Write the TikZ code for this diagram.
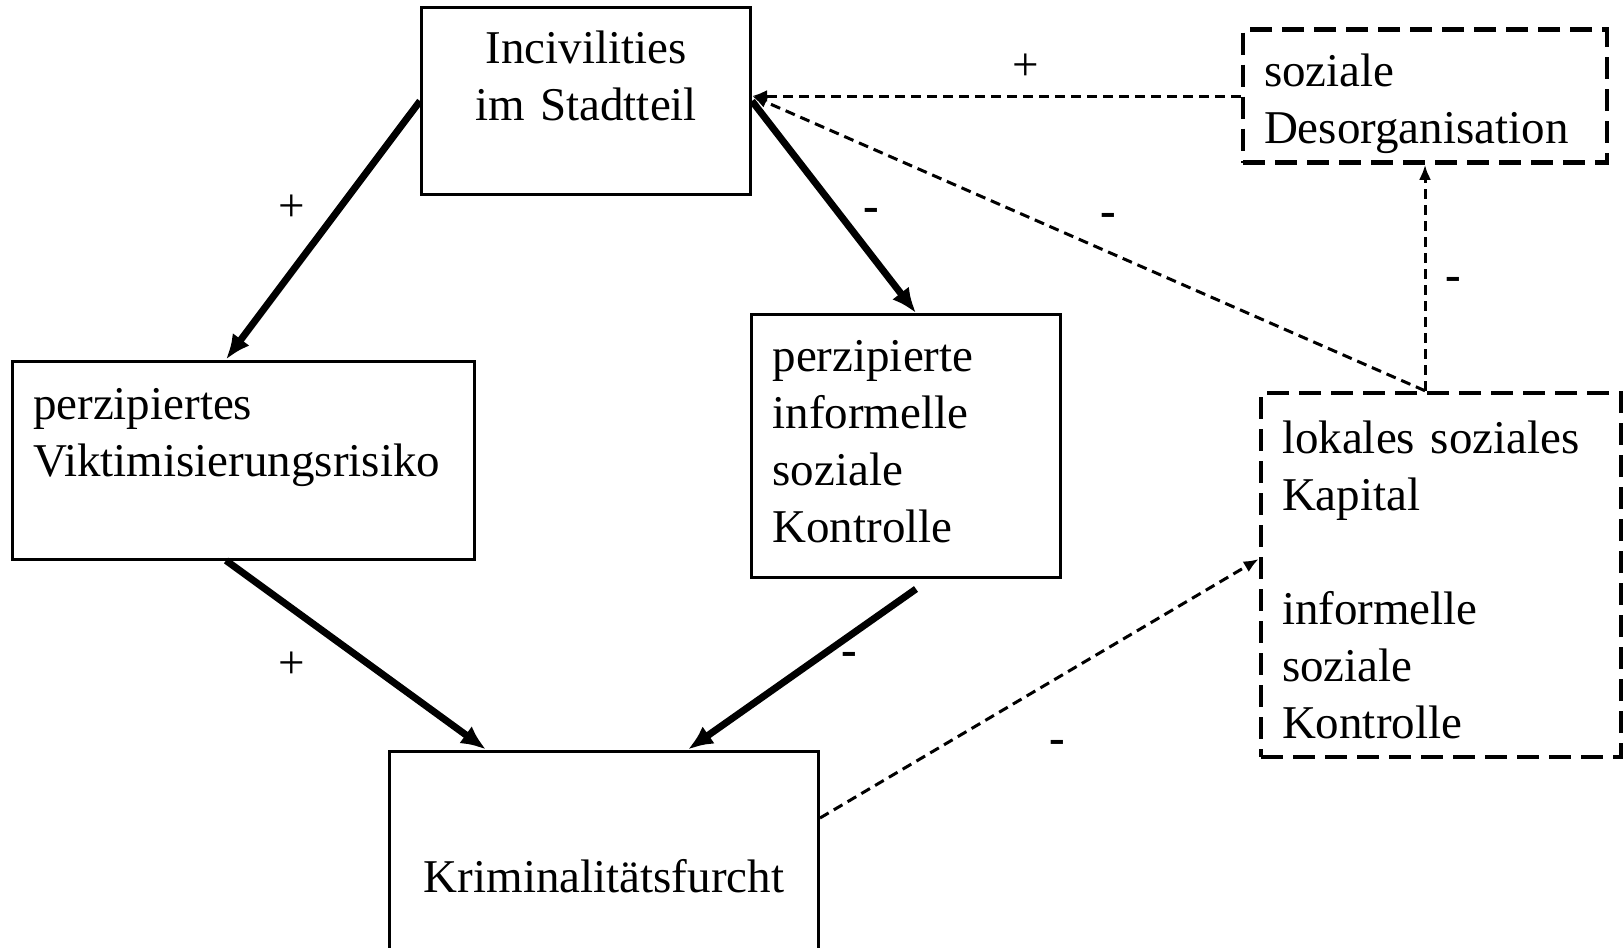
\documentclass[tikz,border=0pt]{standalone}
\usepackage{fontspec}
\setmainfont{Liberation Serif}
\usetikzlibrary{arrows.meta,calc}
\tikzset{
    block/.style = {draw, rectangle, line width=3pt,
        inner xsep=21pt, inner ysep=0pt, align=left},
    dblock/.style = {block, line width=4.5pt, dash pattern=on 22pt off 10pt},
    arrow/.style = {draw, line width=7pt, -{Latex[length=25pt,width=21pt]}},
    darrow/.style = {draw, line width=3pt, dash pattern=on 10pt off 6pt,
        -{Latex[length=15pt,width=12pt]}},
    sign/.style = {inner sep=0pt, yshift=-6pt}
}
% first line of a box, pushed down by half of #1
\newcommand{\topline}[1]{\rule[-17pt]{0pt}{\dimexpr57pt+#1\relax}}
\newcommand{\minus}{\textbf{-}}
\begin{document}
\begin{tikzpicture}[x=1pt, y=-1pt, font=\fontsize{47}{57}\selectfont]
        \useasboundingbox (0,0) rectangle (1623,948);
        \clip (0,0) rectangle (1623,948);
        % boxes
        \node [block, align=center, minimum width=329pt, minimum height=187pt, text width=287pt] (civ) at (586,101) {\topline{16pt}Incivilities\\im Stadtteil\strut\\\strut};
        \node [block, minimum width=462pt, minimum height=198pt, text width=420pt] (vik) at (243,460) {\topline{10pt}perzipiertes\\Viktimisierungsrisiko\strut\\\strut};
        \node [block, minimum width=309pt, minimum height=263pt, text width=267pt] (perz) at (906,446) {perzipierte\strut\\informelle\strut\\soziale\strut\\Kontrolle\strut};
        \node [block, align=center, minimum width=429pt, minimum height=254pt, text width=387pt] (krim) at (604,878) {\topline{6pt}Kriminalitätsfurcht};
        \node [dblock, minimum width=364pt, minimum height=133pt, text width=322pt] (desorg) at (1425,96) {\topline{16pt}soziale\\Desorganisation\strut};
        \node [dblock, minimum width=360pt, minimum height=364pt, text width=318pt] (kapital) at (1441,575) {\topline{20pt}lokales soziales\\Kapital\strut\\\strut\\informelle\strut\\soziale\strut\\Kontrolle\strut};
        % thick arrows
        \draw [arrow] (civ.west) -- node [sign, pos=0.39, left=36pt] {+} ([xshift=-17pt]vik.north);
        \draw [arrow] (civ.east) -- node [sign, pos=0.51, right=24pt] {\minus} ([xshift=10pt]perz.north);
        \draw [arrow] ([xshift=-17pt]vik.south) -- node [sign, pos=0.52, left=53pt] {+} ([xshift=-118pt]krim.north);
        \draw [arrow] ([xshift=10pt,yshift=-10pt]perz.south) -- node [sign, pos=0.4, right=13pt] {\minus} ([xshift=84pt]krim.north);
        % dashed arrows
        \coordinate (civin) at (desorg.west -| civ.east);
        \draw [darrow] (desorg.west) -- node [sign, pos=0.44, above=20pt] {+} (civin);
        \draw [darrow] (kapital.north -| desorg.south) -- node [sign, pos=0.47, above=30pt] {\minus} (civin);
        \draw [darrow] (kapital.north -| desorg.south) -- node [sign, pos=0.5, right=19pt] {\minus} (desorg.south);
        \draw [darrow] ([yshift=60pt]krim.east) -- node [sign, pos=0.54, below=55pt] {\minus} ([yshift=16pt]kapital.west);
    \end{tikzpicture}
\end{document}
